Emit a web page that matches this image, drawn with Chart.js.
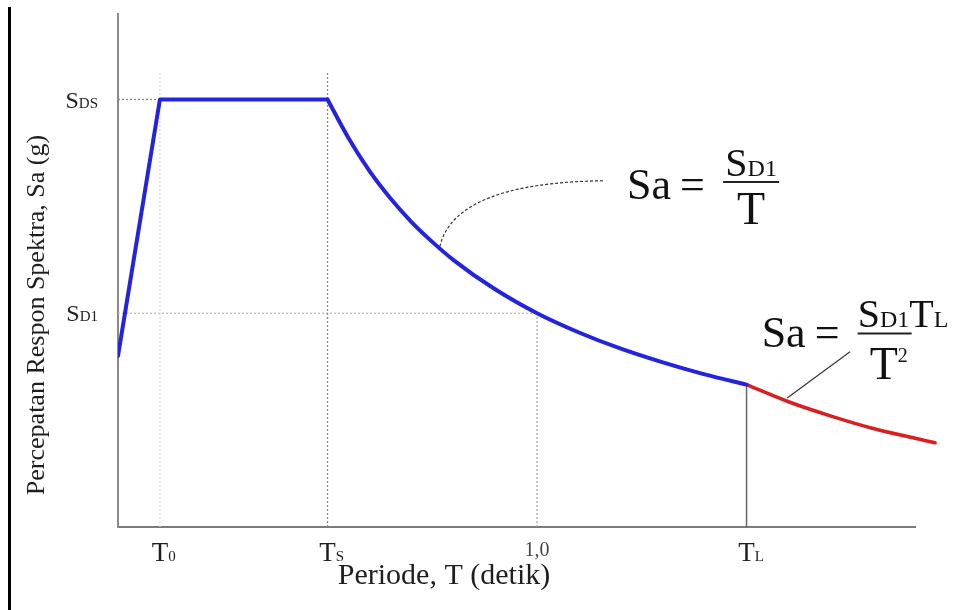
<!DOCTYPE html>
<html>
<head>
<meta charset="utf-8">
<script src="https://cdn.jsdelivr.net/npm/chart.js@4/dist/chart.umd.min.js"></script>
<style>
  html, body { margin: 0; padding: 0; background: #fff; }
  #wrap { width: 963px; height: 610px; position: relative; }
</style>
</head>
<body>
<div id="wrap"><canvas id="grafico"></canvas></div>
<script>
// values (T in s, Sa in g, SDS = 1)
const rampaT = [0, 0.1, 0.5];
const rampaSa = [0.4, 1.0, 1.0];
const curvaT = [0.5, 0.55, 0.6, 0.65, 0.7, 0.75, 0.8, 0.9, 1.0, 1.1, 1.2, 1.3, 1.4, 1.5];
const curvaSa = [1.0, 0.91, 0.833, 0.769, 0.714, 0.667, 0.625, 0.556, 0.5, 0.455, 0.417, 0.385, 0.357, 0.333];
const largoT = [1.5, 1.6, 1.7, 1.8, 1.9, 1.95];
const largoSa = [0.333, 0.293, 0.26, 0.231, 0.208, 0.197];

const xTicks = [0.1, 0.5, 1.0, 1.5];
const xTickLabels = [["T", "0"], ["T", "S"], ["1,0", ""], ["T", "L"]];
const yTicks = [1.0, 0.5];
const yTickLabels = [["S", "DS"], ["S", "D1"]];

const T0 = 0.1, TS = 0.5, TL = 1.5, SDS = 1.0, SD1 = 0.5;

const SERIF = '"Liberation Serif", "Times New Roman", serif';

function pts(xs, ys) {
  return xs.map((x, i) => ({ x: x, y: ys[i] }));
}

// guide lines
function guia(datos, color, dash, ancho) {
  return {
    data: datos,
    borderColor: color,
    borderWidth: ancho || 1.3,
    borderDash: dash,
    pointRadius: 0,
    tension: 0,
    order: 5,
  };
}

function texto(ctx, partes, x, y, modo) {
  // partes: [[texto, size, dy], ...] drawn on one baseline
  const anchos = partes.map(([t, s]) => {
    ctx.font = s + "px " + SERIF;
    return ctx.measureText(t).width;
  });
  let inicio = x;
  const total = anchos.reduce((a, b) => a + b, 0);
  if (modo === "first") inicio = x - anchos[0] / 2;
  if (modo === "right") inicio = x - total;
  if (modo === "center") inicio = x - total / 2;
  partes.forEach(([t, s, dy], i) => {
    ctx.font = s + "px " + SERIF;
    ctx.fillText(t, inicio, y + (dy || 0));
    inicio += anchos[i];
  });
}

const decorado = {
  id: "decorado",
  afterDraw(chart) {
    const ctx = chart.ctx;
    const xs = chart.scales.x, ys = chart.scales.y;
    const px = (v) => xs.getPixelForValue(v);
    const py = (v) => ys.getPixelForValue(v);
    ctx.save();
    ctx.fillStyle = "#1e1e1e";
    ctx.textBaseline = "alphabetic";

    // left border of the picture
    ctx.strokeStyle = "#000";
    ctx.lineWidth = 3;
    ctx.beginPath();
    ctx.moveTo(9.5, 7);
    ctx.lineTo(9.5, 610);
    ctx.stroke();

    // tick labels
    xTicks.forEach((v, i) => {
      const [a, b] = xTickLabels[i];
      if (b === "") {
        ctx.fillStyle = "#444";
        texto(ctx, [[a, 20]], px(v), 556, "center");
        ctx.fillStyle = "#1e1e1e";
      } else {
        texto(ctx, [[a, 27], [b, 15]], px(v), 561, "first");
      }
    });
    yTicks.forEach((v, i) => {
      const [a, b] = yTickLabels[i];
      texto(ctx, [[a, 24], [b, 15]], 98, py(v) + 8, "right");
    });

    // axis titles
    ctx.font = "30px " + SERIF;
    ctx.textAlign = "center";
    ctx.fillText("Periode, T (detik)", 444, 584);
    ctx.save();
    ctx.translate(44, 315);
    ctx.rotate(-Math.PI / 2);
    ctx.font = "26px " + SERIF;
    ctx.fillText("Percepatan Respon Spektra, Sa (g)", 0, 0);
    ctx.restore();
    ctx.textAlign = "left";

    // leader lines
    ctx.strokeStyle = "#333";
    ctx.lineWidth = 1.2;
    ctx.setLineDash([3, 2]);
    ctx.beginPath();
    ctx.moveTo(px(0.768), py(0.656));
    ctx.quadraticCurveTo(px(0.804), py(0.806), px(1.162), py(0.81));
    ctx.stroke();
    ctx.setLineDash([]);
    ctx.beginPath();
    ctx.moveTo(px(1.597), py(0.302));
    ctx.lineTo(px(1.747), py(0.41));
    ctx.stroke();

    ctx.fillStyle = "#111";
    // Sa = SD1 / T
    let x0 = px(1.215), y0 = py(0.767);
    texto(ctx, [["Sa", 44]], x0, y0, "left");
    texto(ctx, [["=", 44]], x0 + 53, y0, "left");
    ctx.lineWidth = 2;
    ctx.strokeStyle = "#222";
    ctx.beginPath();
    ctx.moveTo(x0 + 96, y0 - 17);
    ctx.lineTo(x0 + 152, y0 - 17);
    ctx.stroke();
    texto(ctx, [["S", 40], ["D1", 24]], x0 + 124, y0 - 23, "center");
    texto(ctx, [["T", 46]], x0 + 124, y0 + 25, "center");

    // Sa = SD1 TL / T^2
    x0 = px(1.536); y0 = py(0.42);
    texto(ctx, [["Sa", 44]], x0, y0, "left");
    texto(ctx, [["=", 44]], x0 + 53, y0, "left");
    ctx.beginPath();
    ctx.moveTo(x0 + 96, y0 - 14);
    ctx.lineTo(x0 + 150, y0 - 14);
    ctx.stroke();
    texto(ctx, [["S", 40], ["D1", 24], ["T", 40], ["L", 24]], x0 + 96, y0 - 20, "left");
    texto(ctx, [["T", 46], ["2", 20, -17]], x0 + 108, y0 + 32, "left");

    ctx.restore();
  },
};

new Chart(document.querySelector("#grafico"), {
  type: "line",
  data: {
    datasets: [
      {
        data: pts(rampaT, rampaSa),
        borderColor: "#2424dc",
        borderWidth: 4,
        pointRadius: 0,
        tension: 0,
        borderCapStyle: "round",
        borderJoinStyle: "round",
      },
      {
        data: pts(curvaT, curvaSa),
        borderColor: "#2424dc",
        borderWidth: 4,
        pointRadius: 0,
        cubicInterpolationMode: "monotone",
        borderCapStyle: "round",
      },
      {
        data: pts(largoT, largoSa),
        borderColor: "#d91f1f",
        borderWidth: 3.5,
        pointRadius: 0,
        cubicInterpolationMode: "monotone",
        borderCapStyle: "round",
        clip: false,
      },
      guia([{ x: 0, y: SDS }, { x: T0, y: SDS }], "#888", [2, 2]),
      guia([{ x: T0, y: 0 }, { x: T0, y: 1.065 }], "#d4d8e4", [2, 2]),
      guia([{ x: TS, y: 0 }, { x: TS, y: 1.065 }], "#888", [2, 2]),
      guia([{ x: 0, y: SD1 }, { x: 1.0, y: SD1 }], "#bbb", [2, 2]),
      guia([{ x: 1.0, y: 0 }, { x: 1.0, y: SD1 }], "#aaa", [2, 2]),
      guia([{ x: TL, y: 0 }, { x: TL, y: 0.333 }], "#666", [], 1.5),
    ],
  },
  options: {
    responsive: true,
    maintainAspectRatio: false,
    animation: false,
    layout: { padding: { left: 110, top: 14, right: 48, bottom: 75 } },
    plugins: { legend: { display: false }, tooltip: { enabled: false } },
    scales: {
      x: {
        type: "linear",
        min: 0,
        max: 1.902,
        grid: { display: false },
        border: { color: "#7a7a7a", width: 2 },
        ticks: { display: false },
      },
      y: {
        min: 0,
        max: 1.2,
        grid: { display: false },
        border: { color: "#8a8a8a", width: 2 },
        ticks: { display: false },
      },
    },
  },
  plugins: [decorado],
});
</script>
</body>
</html>
